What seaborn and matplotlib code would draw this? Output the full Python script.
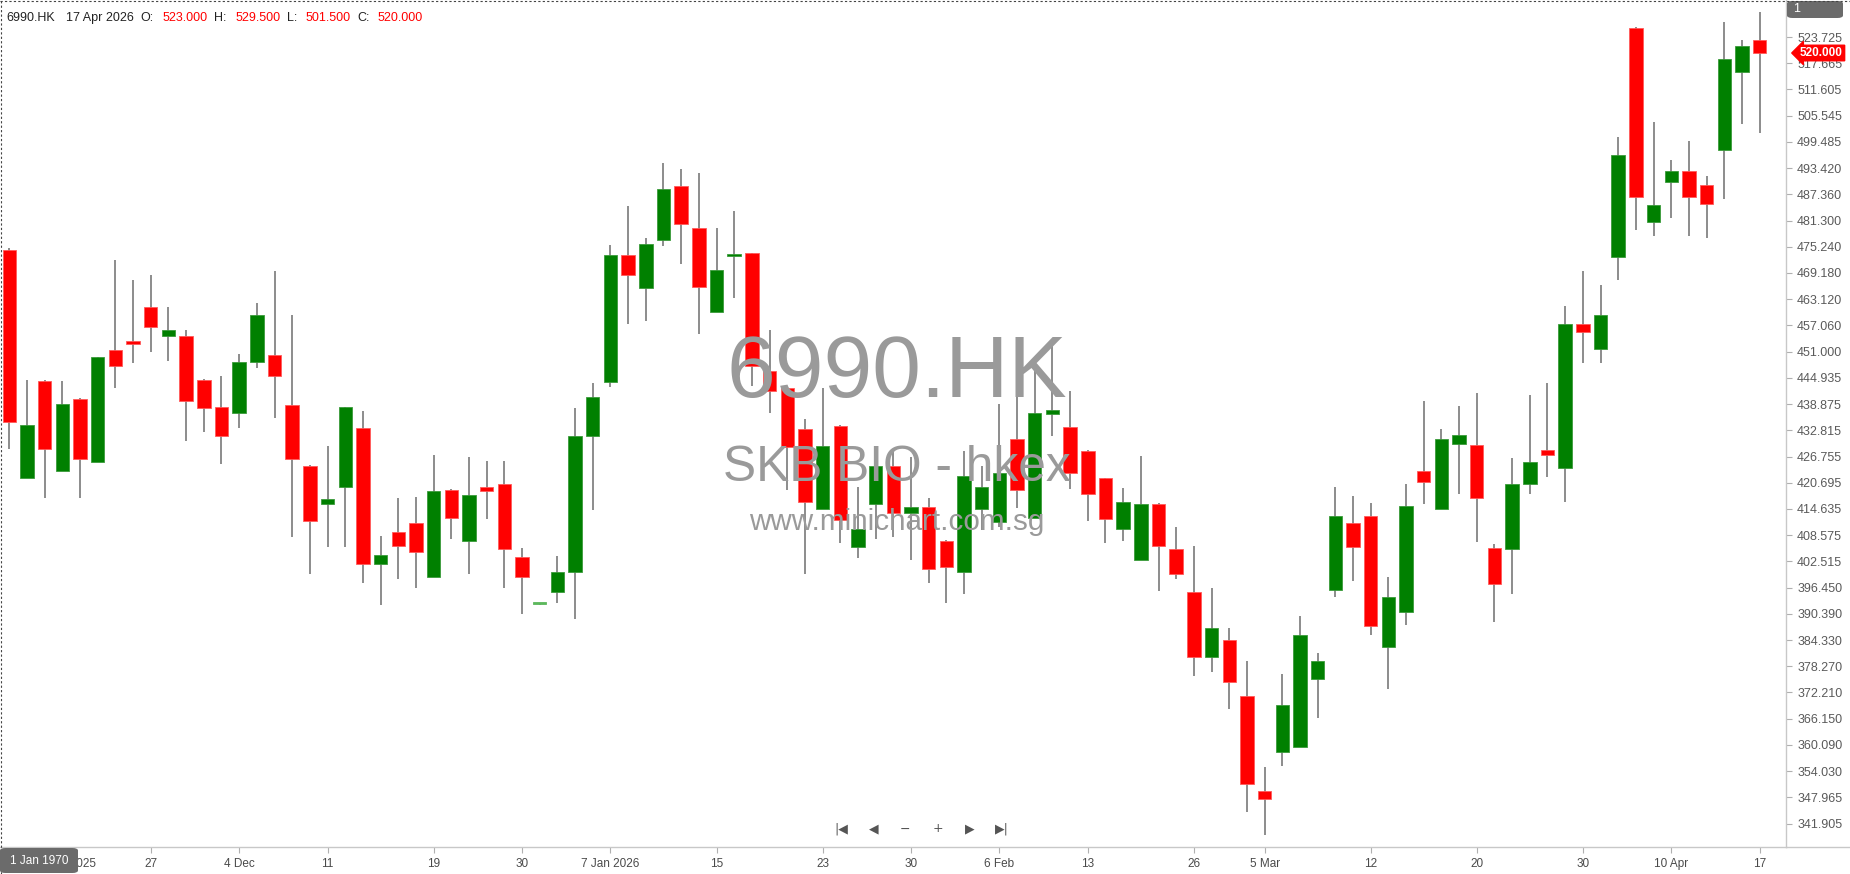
import numpy as np
import pandas as pd
import matplotlib
matplotlib.use('Agg')
import matplotlib.pyplot as plt
from matplotlib.patches import FancyBboxPatch
from matplotlib.lines import Line2D
import seaborn as sns

# daily OHLC of 6990.HK, 100 sessions up to 17 Apr 2026
opens = [474.6, 421.7, 444.2, 423.5, 440.0, 425.4, 451.4, 453.4, 461.2, 454.7,
         454.6, 444.4, 438.1, 436.7, 448.5, 450.3, 438.7, 424.6, 415.8, 419.8,
         433.3, 402.0, 409.2, 411.5, 399.0, 419.1, 407.3, 419.6, 420.5, 403.5,
         392.7, 395.4, 400.0, 431.6, 444.0, 473.3, 465.7, 476.9, 489.3, 479.5,
         460.1, 473.2, 473.7, 446.5, 442.5, 433.2, 414.6, 433.9, 405.9, 415.8,
         424.5, 413.8, 415.0, 407.2, 400.1, 414.6, 411.7, 430.7, 412.5, 436.5,
         433.5, 428.0, 421.7, 409.9, 402.8, 415.7, 405.3, 395.4, 380.5, 384.4,
         371.4, 349.5, 358.5, 359.6, 375.4, 396.0, 411.5, 413.0, 382.8, 390.8,
         423.4, 414.6, 429.6, 429.4, 405.7, 405.3, 420.3, 428.3, 424.1, 457.5,
         451.6, 472.8, 525.7, 481.0, 490.2, 492.7, 489.5, 497.7, 515.6, 523.0]
highs = [475.0, 444.4, 444.4, 444.2, 440.2, 449.7, 472.2, 467.6, 468.7, 461.2,
         456.0, 444.6, 445.4, 450.4, 462.2, 469.6, 459.5, 424.8, 429.2, 438.1,
         437.3, 408.4, 417.1, 417.3, 427.2, 419.3, 426.6, 425.7, 425.7, 405.6,
         392.9, 403.7, 437.9, 443.7, 475.6, 484.6, 477.2, 494.5, 493.3, 492.2,
         479.5, 483.5, 473.8, 456.0, 442.5, 435.5, 442.5, 434.0, 419.8, 427.1,
         428.6, 426.7, 417.1, 407.4, 428.0, 424.6, 439.0, 442.1, 446.6, 452.5,
         441.9, 428.2, 421.9, 419.4, 426.9, 415.9, 410.4, 406.1, 396.3, 387.0,
         379.4, 354.9, 376.4, 389.9, 381.4, 419.6, 417.6, 415.9, 398.8, 420.5,
         439.5, 433.1, 438.4, 441.5, 406.5, 426.5, 441.0, 443.7, 461.5, 469.6,
         466.4, 500.5, 526.1, 504.0, 495.3, 499.6, 491.6, 527.1, 523.1, 529.5]
lows = [428.4, 421.7, 417.1, 423.5, 417.1, 425.4, 442.7, 448.3, 450.8, 448.9,
        430.4, 432.5, 425.0, 433.3, 447.1, 435.6, 408.1, 399.5, 405.9, 405.9,
        397.6, 392.4, 398.4, 396.3, 399.0, 407.6, 399.5, 412.2, 396.3, 390.3,
        392.5, 392.8, 389.1, 414.5, 442.9, 457.3, 458.1, 475.5, 471.2, 455.0,
        460.1, 463.3, 443.0, 436.7, 419.1, 399.5, 414.6, 406.7, 403.2, 407.6,
        408.2, 402.8, 397.6, 393.0, 394.9, 409.8, 410.5, 414.8, 412.5, 431.5,
        419.2, 411.9, 406.7, 407.3, 402.8, 395.7, 398.4, 376.1, 377.0, 368.5,
        344.6, 339.2, 355.2, 359.6, 366.2, 394.3, 398.0, 385.6, 373.1, 387.9,
        415.7, 414.6, 418.0, 407.0, 388.5, 394.9, 418.2, 422.0, 416.2, 448.4,
        448.4, 467.6, 479.0, 477.8, 481.8, 477.8, 477.2, 486.2, 503.7, 501.5]
closes = [434.8, 434.0, 428.4, 439.0, 426.1, 449.7, 447.7, 452.7, 456.7, 456.0,
          439.7, 437.9, 431.6, 448.5, 459.5, 445.4, 426.1, 411.9, 417.0, 438.1,
          402.0, 404.0, 406.1, 404.7, 418.8, 412.5, 417.9, 418.8, 405.3, 398.9,
          392.7, 400.0, 431.5, 440.4, 473.3, 468.8, 475.9, 488.6, 480.4, 466.0,
          469.9, 473.4, 447.6, 442.0, 429.0, 416.3, 429.2, 412.1, 409.9, 424.5,
          413.7, 415.0, 400.7, 401.3, 422.2, 419.6, 422.9, 418.9, 436.7, 437.5,
          422.9, 418.2, 412.2, 416.2, 415.7, 406.1, 399.5, 380.5, 387.0, 374.7,
          351.0, 347.5, 369.4, 385.6, 379.4, 413.0, 405.9, 387.6, 394.2, 415.3,
          420.9, 430.8, 431.8, 417.2, 397.2, 420.4, 425.4, 427.0, 457.3, 455.5,
          459.5, 496.5, 486.7, 485.0, 492.7, 486.7, 485.1, 518.7, 521.6, 520.0]

xtick_pos = [3, 8, 13, 18, 24, 29, 34, 40, 46, 51, 56, 61, 67, 71, 77, 83, 89, 94, 99]
xtick_labels = ['20 Nov 2025', '27', '4 Dec', '11', '19', '30', '7 Jan 2026', '15',
                '23', '30', '6 Feb', '13', '26', '5 Mar', '12', '20', '30',
                '10 Apr', '17']
ytick_labels = ['523.725', '517.665', '511.605', '505.545', '499.485', '493.420',
                '487.360', '481.300', '475.240', '469.180', '463.120', '457.060',
                '451.000', '444.935', '438.875', '432.815', '426.755', '420.695',
                '414.635', '408.575', '402.515', '396.450', '390.390', '384.330',
                '378.270', '372.210', '366.150', '360.090', '354.030', '347.965',
                '341.905']
last_price = 520.0

W, H = 1850, 874


def fx(px):
    return px / W


def fy(px):
    return 1 - px / H


sns.set_theme(style='white')
plt.rcParams['font.family'] = ['Liberation Sans', 'DejaVu Sans']

df = pd.DataFrame({'open': opens, 'high': highs, 'low': lows, 'close': closes})
df['idx'] = np.arange(len(df))
colors = np.where(df.close > df.open, '#008000',
                  np.where(df.close < df.open, '#ff0000', '#5cb85c'))
edges = np.where(df.close > df.open, '#3a9a3a',
                 np.where(df.close < df.open, '#ff5a5a', '#5cb85c'))

fig = plt.figure(figsize=(W / 100, H / 100), dpi=100)
ax = fig.add_axes([0, fy(847), fx(1786), 847 / H])

# watermark behind the candles
wm = '#9a9a9a'
fig.text(fx(897), fy(396.7), '6990.HK', fontsize=63, color=wm,
         ha='center', va='baseline', zorder=0.5)
fig.text(fx(897), fy(480.7), 'SKB BIO - hkex', fontsize=35.7, color=wm,
         ha='center', va='baseline', zorder=0.5)
fig.text(fx(897), fy(530), 'www.minichart.com.sg', fontsize=21.3, color=wm,
         ha='center', va='baseline', zorder=0.5)
ax.patch.set_alpha(0)

yticks = [float(t) for t in ytick_labels]
for y in yticks:
    ax.axhline(y, color='white', lw=1.2, zorder=1)
for x in xtick_pos:
    ax.axvline(x, color='white', lw=1.2, zorder=1)

ax.vlines(df.idx, df.low, df.high, color='#6e6e6e', lw=1.1, zorder=2)
body = (df.close - df.open).abs().clip(lower=0.35)
ax.bar(df.idx, body, bottom=df[['open', 'close']].min(axis=1), width=0.76,
       color=colors, edgecolor=edges, linewidth=0.6, zorder=3)

ax.set_xlim(-0.526, 100.49)
ax.set_ylim(336.49, 532.28)

ax.yaxis.tick_right()
ax.set_yticks(yticks)
ax.set_yticklabels(ytick_labels)
ax.set_xticks(xtick_pos)
ax.set_xticklabels(xtick_labels)
ax.tick_params(axis='y', right=True, left=False, length=4, width=0.8,
               color='#b0b0b0', labelcolor='#5a5a5a', labelsize=9, pad=4)
ax.tick_params(axis='x', bottom=True, length=4, width=0.8, color='#b0b0b0',
               labelcolor='#4a4a4a', labelsize=8.5, pad=4)
for side in ['top', 'left']:
    ax.spines[side].set_visible(False)
for side in ['right', 'bottom']:
    ax.spines[side].set_color('#c8c8c8')
    ax.spines[side].set_linewidth(1)
fig.add_artist(Line2D([fx(1786), 1], [fy(847), fy(847)], color='#c8c8c8', lw=1))

# dashed frame on top and left
fig.add_artist(Line2D([0, 1], [fy(0.6), fy(0.6)], color='#444444', lw=0.8,
                      ls=(0, (2, 2))))
fig.add_artist(Line2D([fx(0.6), fx(0.6)], [0, 1], color='#444444', lw=0.8,
                      ls=(0, (2, 2))))

# header line
hy = fy(18)
parts = [(6.7, '6990.HK', '#222222'), (66, '17 Apr 2026', '#222222'),
         (140, 'O:', '#222222'), (162.7, '523.000', '#ff0000'),
         (214, 'H:', '#222222'), (236, '529.500', '#ff0000'),
         (287, 'L:', '#222222'), (306, '501.500', '#ff0000'),
         (357, 'C:', '#222222'), (377.7, '520.000', '#ff0000')]
for px, s, c in parts:
    fig.text(fx(px), hy, s, color=c, fontsize=9, ha='left', va='center')

# last price marker
fig.text(fx(1800), fy(53), f'{last_price:.3f}', color='white', fontsize=8.5,
         fontweight='bold', ha='left', va='center',
         bbox=dict(boxstyle='larrow,pad=0.15', fc='#ff0000', ec='#ff0000'))

# top-right pane tag and bottom-left date tag
fig.add_artist(FancyBboxPatch((fx(1787), fy(18)), fx(56), 17 / H,
                              boxstyle='round,pad=0,rounding_size=0.003',
                              fc='#6b6b6b', ec='none'))
fig.text(fx(1793), fy(9), '1', color='white', fontsize=9, ha='left', va='center')
fig.add_artist(FancyBboxPatch((0, fy(873)), fx(78), 25 / H,
                              boxstyle='round,pad=0,rounding_size=0.003',
                              fc='#6b6b6b', ec='none', zorder=5))
fig.text(fx(39), fy(861), '1 Jan 1970', color='white', fontsize=8.5,
         ha='center', va='center', zorder=6)

# navigation buttons
nav = [(841, '|◀'), (874, '◀'), (905, '−'), (938, '+'), (970, '▶'), (1002, '▶|')]
for px, s in nav:
    fig.text(fx(px), fy(829), s, color='#555555', fontsize=9, ha='center',
             va='center', family=['DejaVu Sans'])

fig.savefig('out.png', dpi=100)
